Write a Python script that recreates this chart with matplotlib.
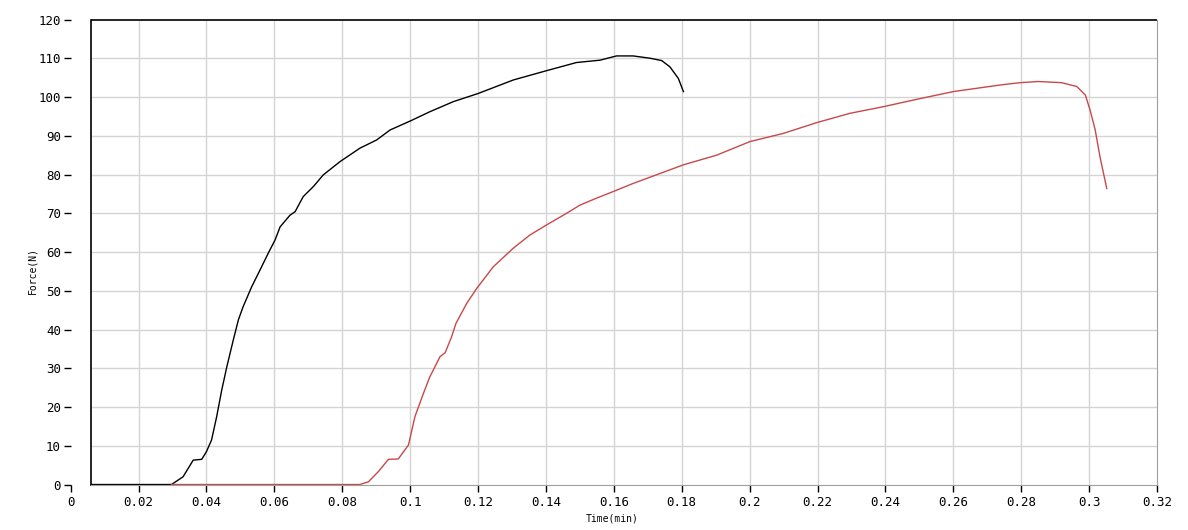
import numpy as np
import matplotlib
matplotlib.use('Agg')
import matplotlib.pyplot as plt

# black specimen
t_black = [0.0061, 0.0297, 0.0331, 0.0361, 0.0386, 0.0400, 0.0415, 0.0430, 0.0445,
           0.0460, 0.0479, 0.0494, 0.0508, 0.0533, 0.0558, 0.0582, 0.0602, 0.0617,
           0.0646, 0.0661, 0.0685, 0.0715, 0.0744, 0.0793, 0.0852, 0.0901, 0.0941,
           0.1000, 0.1058, 0.1127, 0.1200, 0.1304, 0.1402, 0.1490, 0.1559, 0.1608,
           0.1657, 0.1707, 0.1741, 0.1765, 0.1790, 0.1805]
f_black = [0, 0, 2.0, 6.3, 6.5, 8.5, 11.5, 17.5, 24.4,
           30.4, 37.3, 42.5, 45.9, 51.0, 55.4, 59.7, 63.1, 66.5,
           69.5, 70.4, 74.3, 76.9, 79.9, 83.3, 86.8, 88.9, 91.5,
           93.8, 96.2, 98.8, 100.9, 104.4, 106.8, 108.9, 109.5, 110.6,
           110.6, 110.0, 109.4, 107.8, 104.8, 101.4]

# red specimen
t_red = [0.0297, 0.0852, 0.0877, 0.0906, 0.0936, 0.0965, 0.0995, 0.1014, 0.1039,
         0.1058, 0.1088, 0.1103, 0.1122, 0.1135, 0.1167, 0.1196, 0.1245, 0.1304,
         0.1353, 0.1402, 0.1461, 0.1500, 0.1549, 0.1598, 0.1657, 0.1805, 0.1903,
         0.2001, 0.2099, 0.2198, 0.2296, 0.2394, 0.2492, 0.2600, 0.2738, 0.2797,
         0.2850, 0.2919, 0.2964, 0.2989, 0.3003, 0.3018, 0.3032, 0.3052]
f_red = [0, 0, 0.7, 3.3, 6.5, 6.6, 10.2, 17.5, 23.5,
         27.8, 33.0, 34.0, 38.1, 41.6, 46.8, 50.6, 56.2, 61.0,
         64.4, 67.0, 70.0, 72.1, 73.9, 75.6, 77.7, 82.5, 85.0,
         88.5, 90.6, 93.4, 95.8, 97.5, 99.4, 101.4, 103.1, 103.7,
         104.0, 103.7, 102.7, 100.5, 96.6, 91.5, 84.6, 76.4]

x_ticks = [0, 0.02, 0.04, 0.06, 0.08, 0.1, 0.12, 0.14, 0.16, 0.18, 0.2,
           0.22, 0.24, 0.26, 0.28, 0.3, 0.32]
x_labels = ['0', '0.02', '0.04', '0.06', '0.08', '0.1', '0.12', '0.14', '0.16',
            '0.18', '0.2', '0.22', '0.24', '0.26', '0.28', '0.3', '0.32']
y_ticks = list(range(0, 121, 10))

x0 = 0.0061  # left edge of the plot frame
grid_c = '#d4d4d4'

plt.rcParams['font.family'] = ['DejaVu Sans Mono']
fig = plt.figure(figsize=(11.88, 5.30), dpi=100)
ax = fig.add_axes([0.0595, 0.0858, 0.9144, 0.8774])
ax.set_xlim(0, 0.32)
ax.set_ylim(0, 120)

# grid
ax.hlines(y_ticks[1:-1], x0, 0.32, colors=grid_c, lw=1, zorder=0)
ax.vlines(x_ticks[1:-1], 0, 120, colors=grid_c, lw=1, zorder=0)

ax.plot(t_black, f_black, color='black', lw=1)
ax.plot(t_red, f_red, color='#c8484a', lw=1)

# frame
for s in ['left', 'top']:
    ax.spines[s].set_visible(False)
ax.spines['right'].set_color('#a0a0a0')
ax.spines['bottom'].set_color('#a0a0a0')
ax.spines['bottom'].set_bounds(x0, 0.32)
ax.axvline(x0, color='black', lw=1.2, clip_on=False)
ax.hlines(120, x0, 0.32, colors='black', lw=1.2, clip_on=False)

ax.set_xticks(x_ticks)
ax.set_xticklabels(x_labels)
ax.set_yticks(y_ticks)
ax.tick_params(axis='x', direction='out', length=5, width=1, labelsize=9, pad=3)
ax.tick_params(axis='y', direction='out', length=5, width=1, labelsize=9, pad=2)

fig.text(0.027, 0.49, 'Force(N)', rotation=90, ha='center', va='center', fontsize=7)
fig.text(0.515, 0.022, 'Time(min)', ha='center', va='center', fontsize=7)

fig.savefig('out.png', dpi=100)
